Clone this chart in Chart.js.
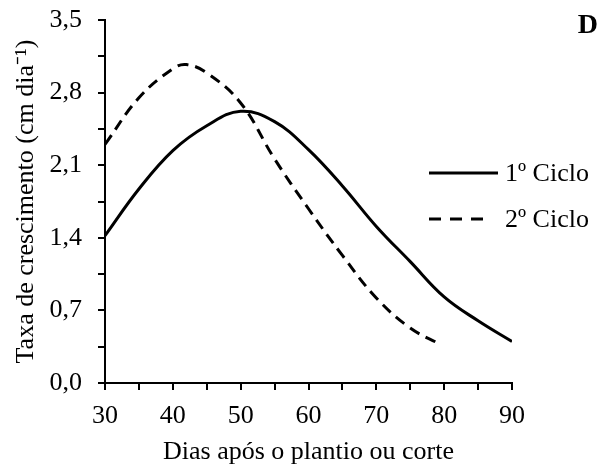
<!DOCTYPE html>
<html>
<head>
<meta charset="utf-8">
<script src="https://cdn.jsdelivr.net/npm/chart.js@4"></script>
<style>
  html, body { margin: 0; padding: 0; background: #fff; }
  #wrap { width: 608px; height: 468px; }
</style>
</head>
<body>
<div id="wrap"><canvas id="growthChart" width="608" height="468"></canvas></div>
<script>
// dias apos o plantio ou corte
const dias1 = [30, 35, 40, 45, 50, 55, 60, 65, 70, 75, 80, 85, 90];
const ciclo1 = [1.42, 1.87, 2.24, 2.48, 2.62, 2.52, 2.25, 1.90, 1.51, 1.17, 0.83, 0.60, 0.40];

const dias2 = [30, 35, 40, 42, 45, 50, 55, 60, 65, 70, 75, 79.5];
const ciclo2 = [2.30, 2.75, 3.03, 3.07, 2.99, 2.70, 2.16, 1.68, 1.23, 0.82, 0.53, 0.37];

const seriesNames = ['1º Ciclo', '2º Ciclo'];
const xTitle = 'Dias após o plantio ou corte';
const yTitle = 'Taxa de crescimento (cm dia⁻¹)';
const panelLetter = 'D';

const FONT = "'Liberation Serif', 'Times New Roman', serif";

// legenda e letra do painel desenhadas a mao
const legendPlugin = {
    id: 'customLegend',
    afterDraw(chart) {
        const ctx = chart.ctx;
        ctx.save();
        ctx.strokeStyle = '#000';
        ctx.fillStyle = '#000';
        ctx.lineWidth = 3;

        // 1º ciclo
        ctx.beginPath();
        ctx.moveTo(429, 173);
        ctx.lineTo(498, 173);
        ctx.stroke();

        // 2º ciclo
        ctx.setLineDash([12, 9]);
        ctx.beginPath();
        ctx.moveTo(429, 219);
        ctx.lineTo(486, 219);
        ctx.stroke();
        ctx.setLineDash([]);

        ctx.font = '26px ' + FONT;
        ctx.textBaseline = 'middle';
        ctx.textAlign = 'left';
        ctx.fillText(seriesNames[0], 505, 174);
        ctx.fillText(seriesNames[1], 505, 220);

        ctx.font = 'bold 28px ' + FONT;
        ctx.textAlign = 'right';
        ctx.fillText(panelLetter, 598, 26);
        ctx.restore();
    }
};

const ctx = document.getElementById('growthChart').getContext('2d');
new Chart(ctx, {
    type: 'line',
    data: {
        datasets: [{
            label: seriesNames[0],
            data: dias1.map((d, i) => ({ x: d, y: ciclo1[i] })),
            borderColor: '#000',
            borderWidth: 3,
            pointRadius: 0,
            fill: false,
            tension: 0.4
        }, {
            label: seriesNames[1],
            data: dias2.map((d, i) => ({ x: d, y: ciclo2[i] })),
            borderColor: '#000',
            borderWidth: 3,
            borderDash: [11, 7],
            pointRadius: 0,
            fill: false,
            tension: 0.4
        }]
    },
    options: {
        responsive: false,
        animation: false,
        layout: { padding: { left: 0, right: 96, top: 20, bottom: 0 } },
        plugins: {
            legend: { display: false },
            tooltip: { enabled: false }
        },
        scales: {
            x: {
                type: 'linear',
                min: 30,
                max: 90,
                afterFit: (scale) => {
                    scale.height = 85;
                    scale.paddingLeft = 0;
                    scale.paddingRight = 0;
                },
                ticks: {
                    stepSize: 5,
                    autoSkip: false,
                    maxRotation: 0,
                    color: '#000',
                    padding: 11,
                    font: { family: FONT, size: 26 },
                    callback: (v) => (v % 10 === 0 ? v : '')
                },
                grid: { drawOnChartArea: false, drawTicks: true, tickLength: 7, color: '#000', lineWidth: 2 },
                border: { color: '#000', width: 2 },
                title: {
                    display: true,
                    text: xTitle,
                    color: '#000',
                    font: { family: FONT, size: 26 },
                    padding: { top: 0, bottom: 0 }
                }
            },
            y: {
                min: 0,
                max: 3.5,
                afterFit: (scale) => {
                    scale.width = 105;
                    scale.paddingTop = 0;
                    scale.paddingBottom = 0;
                },
                ticks: {
                    stepSize: 0.35,
                    autoSkip: false,
                    color: '#000',
                    padding: 16,
                    font: { family: FONT, size: 26 },
                    callback: (v, i) => (i % 2 === 0 ? v.toFixed(1).replace('.', ',') : '')
                },
                grid: { drawOnChartArea: false, drawTicks: true, tickLength: 7, color: '#000', lineWidth: 2 },
                border: { color: '#000', width: 2 },
                title: {
                    display: true,
                    text: yTitle,
                    color: '#000',
                    font: { family: FONT, size: 26 },
                    padding: { top: 11, bottom: 0 }
                }
            }
        }
    },
    plugins: [legendPlugin]
});
</script>
</body>
</html>
